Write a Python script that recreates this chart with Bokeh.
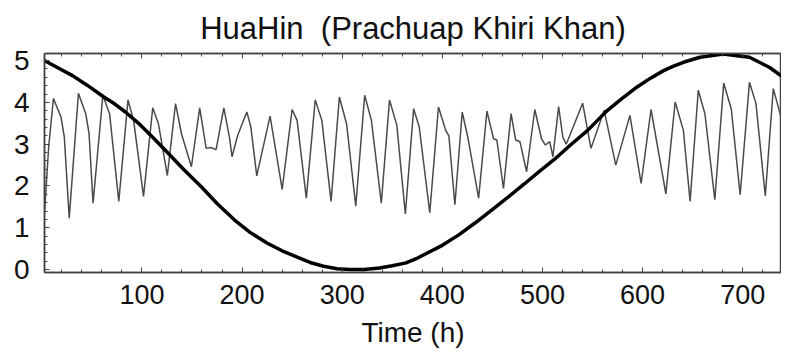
from bokeh.plotting import figure
from bokeh.models import Range1d, LinearAxis, SingleIntervalTicker, CustomJSTickFormatter
from bokeh.embed import file_html
from bokeh.resources import INLINE

# Hourly sea level (thin line): turning points
tide_t = [2.7, 6.9, 11.6, 19.2, 22.5, 27.4, 36.6, 43.9, 47.2, 51.2, 61.0, 67.7, 76.9,
          86.1, 91.7, 101.6, 110.8, 116.5, 125.4, 133.6, 139.5, 149.4, 157.7, 164.2,
          168.9, 174.1, 181.8, 187.4, 190.0, 195.6, 204.8, 208.8, 214.7, 228.0, 240.1,
          250.0, 255.0, 264.2, 273.1, 279.7, 288.9, 297.2, 304.4, 313.6, 322.5, 329.2,
          339.1, 347.3, 354.6, 363.1, 371.4, 377.0, 387.5, 396.2, 403.4, 406.6, 412.6,
          419.9, 425.8, 436.3, 444.6, 451.2, 454.5, 461.1, 468.7, 473.3, 477.6, 484.2,
          492.4, 499.1, 503.0, 507.3, 510.5, 516.2, 520.4, 523.8, 540.2, 548.5, 561.7,
          573.3, 587.4, 598.6, 608.5, 623.3, 632.6, 640.8, 647.5, 655.7, 662.3, 672.2,
          681.1, 688.6, 697.5, 706.8, 713.3, 722.6, 730.6, 736.5, 738.8]
tide_v = [1.36, 2.94, 4.09, 3.65, 3.17, 1.23, 4.22, 3.73, 3.25, 1.59, 4.17, 3.73, 1.63,
          4.06, 3.57, 1.75, 3.87, 3.49, 2.25, 3.97, 3.25, 2.46, 3.87, 2.90,
          2.92, 2.87, 3.87, 3.17, 2.70, 3.21, 3.77, 3.41, 2.24, 3.67, 1.92,
          3.83, 3.57, 1.71, 4.06, 3.57, 1.63, 4.13, 3.49, 1.52, 4.17, 3.57,
          1.59, 4.06, 3.45, 1.33, 3.85, 3.41, 1.36, 3.89, 3.33, 3.20, 1.55,
          3.77, 3.13, 1.71, 3.79, 3.13, 3.10, 1.94, 3.73, 3.10, 3.06, 2.34,
          3.83, 3.13, 2.98, 3.06, 2.70, 3.90, 3.17, 3.00, 3.98, 2.90, 3.81,
          2.50, 3.69, 2.06, 3.83, 1.81, 4.01, 3.33, 1.63, 4.29, 3.73, 1.67,
          4.46, 3.85, 1.79, 4.48, 3.97, 1.76, 4.33, 3.81, 3.60]

# Slow component (thick line)
trend_t = [2.7, 16.0, 30.7, 46.0, 62.0, 73.0, 83.5, 96.7, 111.0, 125.5, 142.0, 159.3,
           175.0, 192.3, 208.0, 225.3, 240.0, 255.0, 268.0, 281.4, 295.0, 307.7, 322.0,
           337.4, 350.0, 363.8, 374.0, 383.6, 400.0, 416.5, 433.0, 449.6, 466.0, 482.5,
           497.0, 512.2, 528.0, 545.2, 555.0, 565.0, 580.0, 594.6, 608.0, 621.0, 631.0,
           640.8, 657.4, 680.4, 706.8, 726.6, 738.8]
trend_v = [5.00, 4.83, 4.64, 4.40, 4.13, 3.96, 3.77, 3.50, 3.16, 2.80, 2.39, 1.98,
           1.58, 1.19, 0.89, 0.63, 0.45, 0.30, 0.17, 0.08, 0.02, 0.00, 0.00,
           0.04, 0.09, 0.16, 0.26, 0.38, 0.58, 0.83, 1.12, 1.43, 1.74, 2.06,
           2.35, 2.64, 2.98, 3.33, 3.57, 3.81, 4.10, 4.37, 4.58, 4.76, 4.87,
           4.96, 5.08, 5.16, 5.08, 4.84, 4.63]

title_text = "HuaHin\u00a0\u00a0(Prachuap Khiri Khan)"
x_label = "Time (h)"

FONT = "Liberation Sans"
FRAME = "#444444"
TEXT = "#111111"

p = figure(width=781, height=352, output_backend="svg", toolbar_location=None,
           x_range=Range1d(2.7, 738.8), y_range=Range1d(-0.07, 5.17),
           min_border_left=44, min_border_right=0, min_border_top=52, min_border_bottom=80)
bottom = p.xaxis[0]
left = p.yaxis[0]

p.title.text = title_text
p.title.text_font = FONT
p.title.text_font_size = "31px"
p.title.text_font_style = "normal"
p.title.align = "center"
p.title.text_color = TEXT
p.title.standoff = 16

p.xgrid.visible = False
p.ygrid.visible = False
p.outline_line_color = FRAME
p.outline_line_width = 1.5
p.background_fill_color = "white"
p.border_fill_color = "white"

bottom.ticker = SingleIntervalTicker(interval=100, num_minor_ticks=5)
left.ticker = SingleIntervalTicker(interval=1, num_minor_ticks=5)

top = LinearAxis(ticker=SingleIntervalTicker(interval=100, num_minor_ticks=5),
                 formatter=CustomJSTickFormatter(code="return ''"))
top.major_label_standoff = 0
top.major_label_text_font_size = "1px"
p.add_layout(top, "above")

for ax in [bottom, left, top]:
    ax.axis_line_color = FRAME
    ax.axis_line_width = 1.5
    ax.major_tick_in = 5
    ax.major_tick_out = 0
    ax.minor_tick_in = 3
    ax.minor_tick_out = 0
    ax.major_tick_line_color = FRAME
    ax.minor_tick_line_color = FRAME
    ax.major_label_text_font = FONT
    ax.major_label_text_color = TEXT

bottom.major_label_text_font_size = "27px"
left.major_label_text_font_size = "28px"
bottom.major_label_standoff = 12
left.major_label_standoff = 15
bottom.axis_label = x_label
bottom.axis_label_text_font = FONT
bottom.axis_label_text_font_style = "normal"
bottom.axis_label_text_color = TEXT
bottom.axis_label_text_font_size = "28px"
bottom.axis_label_standoff = 10

p.line(tide_t, tide_v, line_color="#4a4a4a", line_width=1.5)
p.line(trend_t, trend_v, line_color="black", line_width=3.5)

open("out.html", "w").write(file_html(p, INLINE))
